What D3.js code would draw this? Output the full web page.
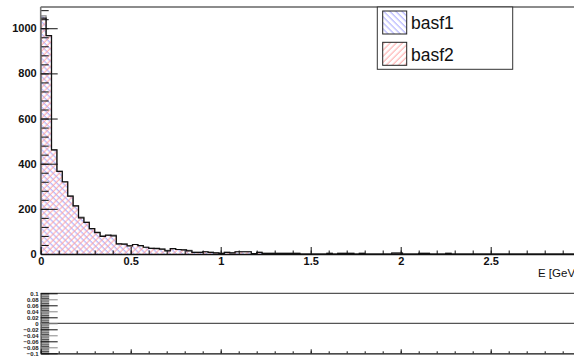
<!DOCTYPE html>
<html lang="en">
<head>
<meta charset="UTF-8">
<title>basf1 vs basf2</title>
<style>
  body { margin: 0; background: #fff; }
  svg { display: block; font-family: "Liberation Sans", Arial, sans-serif; }
</style>
</head>
<body>
<svg id="chart" width="574" height="357"></svg>
<script src="https://d3js.org/d3.v7.min.js"></script>
<script>
// histogram: 100 bins, 0 - 3 GeV
const binLo = 0, binHi = 3, nBins = 100;
const basf2 = [1045, 967, 461, 366, 320, 256, 213, 160, 140, 112,
    96, 78, 84, 80, 45, 44, 36, 42, 37, 30,
    25, 24, 22, 14, 24, 20, 18, 14, 7, 7,
    10, 7, 5, 3, 7, 5, 10, 10, 10, 2,
    7, 3, 3, 3, 3, 3, 3, 3, 0, 0,
    0, 0, 0, 3, 0, 3, 3, 3, 0, 3,
    0, 0, 0, 0, 0, 4, 4, 0, 0, 0,
    3, 3, 0, 0, 0, 3, 0, 0, 0, 0,
    0, 0, 0, 0, 0, 0, 0, 0, 0, 0,
    0, 0, 0, 0, 0, 0, 0, 0, 0, 0];
const basf1 = [1055, 967, 461, 366, 318, 256, 213, 163, 140, 112,
    94, 80, 82, 84, 45, 44, 37, 42, 37, 30,
    25, 26, 22, 16, 24, 20, 18, 16, 7, 7,
    10, 7, 5, 3, 7, 5, 10, 10, 10, 2,
    7, 3, 3, 3, 3, 3, 3, 3, 0, 0,
    0, 0, 0, 3, 0, 3, 3, 3, 0, 3,
    0, 0, 0, 0, 0, 4, 4, 0, 0, 0,
    3, 3, 0, 0, 0, 3, 0, 0, 0, 0,
    0, 0, 0, 0, 0, 0, 0, 0, 0, 0,
    0, 0, 0, 0, 0, 0, 0, 0, 0, 0];
const seriesNames = ["basf1", "basf2"];
const yTicks = [0, 200, 400, 600, 800, 1000];
const xTicks = [0, 0.5, 1, 1.5, 2, 2.5];
const ratioTicks = [0.1, 0.08, 0.06, 0.04, 0.02, 0, -0.02, -0.04, -0.06, -0.08, -0.1];

const svg = d3.select("#chart");
const font = "Liberation Sans, Arial, sans-serif";

// hatch patterns
const defs = svg.append("defs");
function hatch(id, color, angle) {
    const p = defs.append("pattern")
        .attr("id", id)
        .attr("patternUnits", "userSpaceOnUse")
        .attr("width", 4.3).attr("height", 4.3)
        .attr("patternTransform", `rotate(${angle})`);
    p.append("line").attr("x1", 1).attr("x2", 1).attr("y1", -1).attr("y2", 6)
        .attr("stroke", color).attr("stroke-width", 0.9);
}
hatch("hatch1", "#9c9cff", -45);
hatch("hatch2", "#ff9c9c", 45);

// main pad
const x = d3.scaleLinear().domain([binLo, binHi]).range([40.7, 580.7]);
const y = d3.scaleLinear().domain([0, 1094]).range([254, 7]);
const bw = (binHi - binLo) / nBins;

function stepPoints(vals) {
    const pts = [[binLo, 0]];
    vals.forEach((v, i) => {
        pts.push([binLo + i * bw, v]);
        pts.push([binLo + (i + 1) * bw, v]);
    });
    pts.push([binHi, 0]);
    return pts;
}
const line = d3.line().x(d => x(d[0])).y(d => y(d[1]));

svg.append("path").attr("d", line(stepPoints(basf1)))
    .attr("fill", "url(#hatch1)").attr("stroke", "#888").attr("stroke-width", 1.2);
svg.append("path").attr("d", line(stepPoints(basf2)))
    .attr("fill", "url(#hatch2)").attr("stroke", "#111").attr("stroke-width", 1.2);

// frame top
svg.append("line").attr("x1", 40.7).attr("x2", 574).attr("y1", 7).attr("y2", 7)
    .attr("stroke", "#666").attr("stroke-width", 1.3);

// y axis
const yMinor = d3.range(0, 1081, 40);
svg.append("g").attr("transform", "translate(40.7,0)")
    .call(d3.axisLeft(y).tickValues(yMinor).tickSize(-8).tickSizeOuter(0).tickFormat(""))
    .call(g => g.select(".domain").remove())
    .call(g => g.selectAll("line").attr("stroke", "#111"));
svg.append("g").attr("transform", "translate(40.7,0)")
    .call(d3.axisLeft(y).tickValues(yTicks).tickSize(-17).tickSizeOuter(0).tickPadding(4).tickFormat(d => d))
    .call(g => g.select(".domain").attr("d", "M0,254V7").attr("stroke", "#777").attr("stroke-width", 1.6))
    .call(g => g.selectAll("line").attr("stroke", "#111"))
    .call(g => g.selectAll("text").attr("font-family", font).attr("font-size", 11)
        .attr("font-weight", "bold").attr("fill", "#111"));

// x axis
const xMinor = d3.range(0, 31).map(i => i / 10);
svg.append("g").attr("transform", "translate(0,254)")
    .call(d3.axisBottom(x).tickValues(xMinor).tickSize(-3.5).tickSizeOuter(0).tickFormat(""))
    .call(g => g.select(".domain").remove())
    .call(g => g.selectAll("line").attr("stroke", "#111"));
svg.append("g").attr("transform", "translate(0,254)")
    .call(d3.axisBottom(x).tickValues(xTicks).tickSize(-7).tickSizeOuter(0).tickPadding(3).tickFormat(d => d))
    .call(g => g.select(".domain").attr("stroke", "#111").attr("stroke-width", 1.3))
    .call(g => g.selectAll("line").attr("stroke", "#111"))
    .call(g => g.selectAll("text").attr("font-family", font).attr("font-size", 11)
        .attr("font-weight", "bold").attr("fill", "#111"));

svg.append("text").attr("x", 538).attr("y", 276.5)
    .attr("font-family", font).attr("font-size", 11.5).attr("fill", "#111")
    .text("E [GeV]");

// legend
const leg = svg.append("g");
leg.append("rect").attr("x", 377.3).attr("y", 7).attr("width", 135.4).attr("height", 62.3)
    .attr("fill", "#fff").attr("stroke", "#333").attr("stroke-width", 1);
seriesNames.forEach((name, i) => {
    const yy = 11 + i * 31.3;
    leg.append("rect").attr("x", 382.7).attr("y", yy).attr("width", 24).attr("height", 23)
        .attr("fill", i === 0 ? "url(#hatch1)" : "url(#hatch2)")
        .attr("stroke", "#222").attr("stroke-width", 1);
    leg.append("text").attr("x", 411).attr("y", yy + 18.3)
        .attr("font-family", font).attr("font-size", 17.5).attr("fill", "#111")
        .text(name);
});

// ratio pad
const yr = d3.scaleLinear().domain([-0.1, 0.1]).range([353.3, 293.3]);
[0.1, 0].forEach(v => {
    svg.append("line").attr("x1", 40.7).attr("x2", 574).attr("y1", yr(v)).attr("y2", yr(v))
        .attr("stroke", "#555").attr("stroke-width", 1.3);
});
const rMinor = d3.range(-25, 26).map(i => i * 0.004);
svg.append("g").attr("transform", "translate(40.7,0)")
    .call(d3.axisLeft(yr).tickValues(rMinor).tickSize(-8.5).tickSizeOuter(0).tickFormat(""))
    .call(g => g.select(".domain").remove())
    .call(g => g.selectAll("line").attr("stroke", (d, i) => i % 2 ? "#777" : "#111").attr("stroke-width", 0.8));
svg.append("g").attr("transform", "translate(40.7,0)")
    .call(d3.axisLeft(yr).tickValues(ratioTicks).tickSize(-17).tickSizeOuter(0).tickPadding(2)
        .tickFormat(d => d3.format("~g")(d)))
    .call(g => g.select(".domain").attr("stroke", "#555").attr("stroke-width", 1.3))
    .call(g => g.selectAll("line").attr("stroke", (d, i) => i % 2 ? "#888" : "#111"))
    .call(g => g.selectAll("text").attr("font-family", font).attr("font-size", 6)
        .attr("font-weight", "bold").attr("fill", "#222"));
svg.append("g").attr("transform", "translate(0,353.3)")
    .call(d3.axisBottom(x).tickValues(xMinor).tickSize(-2).tickSizeOuter(0).tickFormat(""))
    .call(g => g.select(".domain").attr("stroke", "#111").attr("stroke-width", 1.3))
    .call(g => g.selectAll("line").attr("stroke", "#111"));
svg.append("g").attr("transform", "translate(0,353.3)")
    .call(d3.axisBottom(x).tickValues(xTicks).tickSize(-4).tickSizeOuter(0).tickFormat(""))
    .call(g => g.select(".domain").remove())
    .call(g => g.selectAll("line").attr("stroke", "#111"));
</script>
</body>
</html>
